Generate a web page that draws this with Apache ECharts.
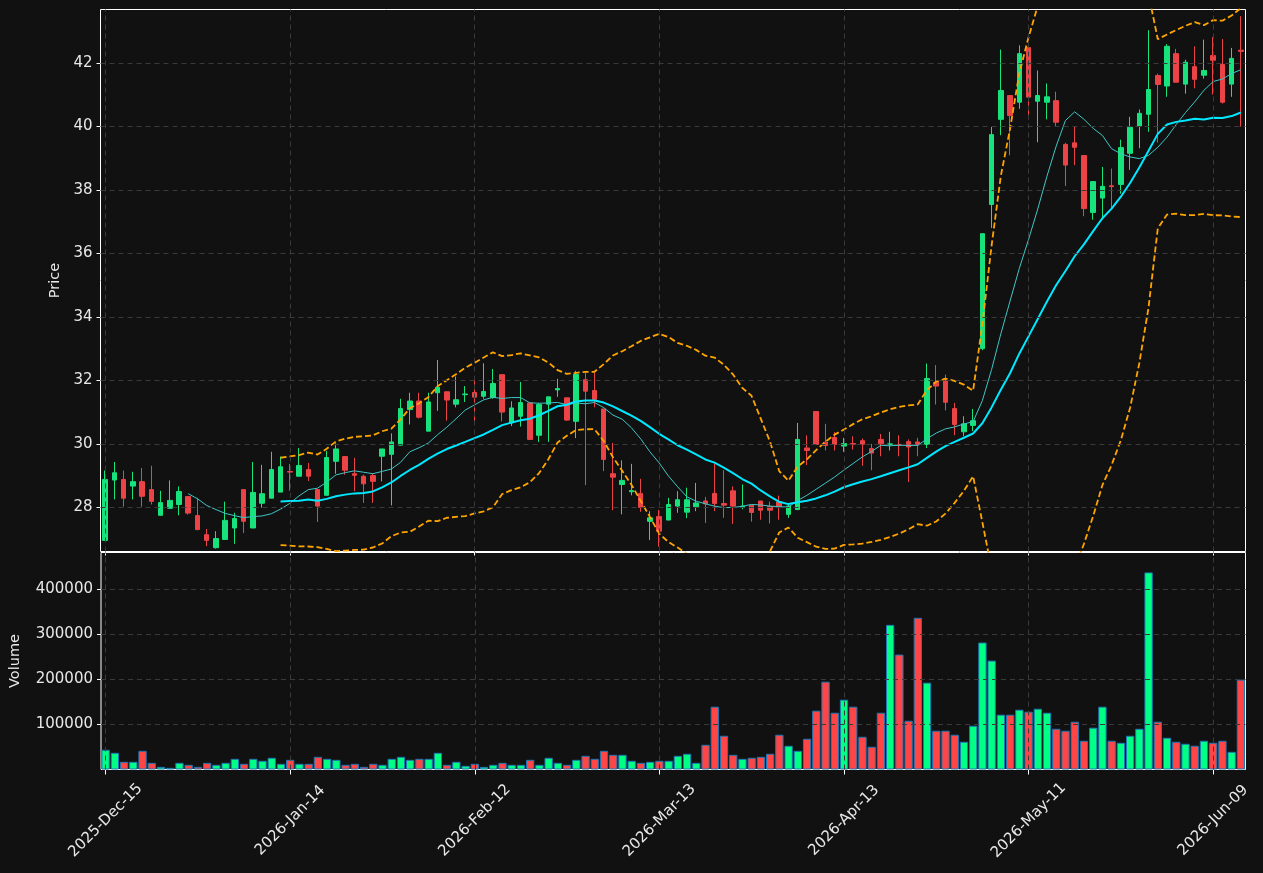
<!DOCTYPE html>
<html>
<head>
<meta charset="utf-8">
<script src="https://cdn.jsdelivr.net/npm/echarts@6/dist/echarts.min.js"></script>
<style>
  html, body { margin: 0; padding: 0; background: #111111; }
  #chart { width: 1263px; height: 873px; }
</style>
</head>
<body>
<div id="chart"></div>
<script>
(function() {

  var dates = [
    '2025-Dec-15','2025-Dec-16','2025-Dec-17','2025-Dec-18','2025-Dec-19','2025-Dec-22','2025-Dec-23','2025-Dec-24','2025-Dec-26','2025-Dec-29',
    '2025-Dec-30','2025-Dec-31','2026-Jan-02','2026-Jan-05','2026-Jan-06','2026-Jan-07','2026-Jan-08','2026-Jan-09','2026-Jan-12','2026-Jan-13',
    '2026-Jan-14','2026-Jan-15','2026-Jan-16','2026-Jan-20','2026-Jan-21','2026-Jan-22','2026-Jan-23','2026-Jan-26','2026-Jan-27','2026-Jan-28',
    '2026-Jan-29','2026-Jan-30','2026-Feb-02','2026-Feb-03','2026-Feb-04','2026-Feb-05','2026-Feb-06','2026-Feb-09','2026-Feb-10','2026-Feb-11',
    '2026-Feb-12','2026-Feb-13','2026-Feb-17','2026-Feb-18','2026-Feb-19','2026-Feb-20','2026-Feb-23','2026-Feb-24','2026-Feb-25','2026-Feb-26',
    '2026-Feb-27','2026-Mar-02','2026-Mar-03','2026-Mar-04','2026-Mar-05','2026-Mar-06','2026-Mar-09','2026-Mar-10','2026-Mar-11','2026-Mar-12',
    '2026-Mar-13','2026-Mar-16','2026-Mar-17','2026-Mar-18','2026-Mar-19','2026-Mar-20','2026-Mar-23','2026-Mar-24','2026-Mar-25','2026-Mar-26',
    '2026-Mar-27','2026-Mar-30','2026-Mar-31','2026-Apr-01','2026-Apr-02','2026-Apr-06','2026-Apr-07','2026-Apr-08','2026-Apr-09','2026-Apr-10',
    '2026-Apr-13','2026-Apr-14','2026-Apr-15','2026-Apr-16','2026-Apr-17','2026-Apr-20','2026-Apr-21','2026-Apr-22','2026-Apr-23','2026-Apr-24',
    '2026-Apr-27','2026-Apr-28','2026-Apr-29','2026-Apr-30','2026-May-01','2026-May-04','2026-May-05','2026-May-06','2026-May-07','2026-May-08',
    '2026-May-11','2026-May-12','2026-May-13','2026-May-14','2026-May-15','2026-May-18','2026-May-19','2026-May-20','2026-May-21','2026-May-22',
    '2026-May-26','2026-May-27','2026-May-28','2026-May-29','2026-Jun-01','2026-Jun-02','2026-Jun-03','2026-Jun-04','2026-Jun-05','2026-Jun-08',
    '2026-Jun-09','2026-Jun-10','2026-Jun-11','2026-Jun-12'
  ];

  var opens = [
    26.96, 28.86, 28.88, 28.67, 28.81, 28.56, 27.75, 27.97, 28.09, 28.34,
    27.74, 27.14, 26.73, 26.99, 27.35, 28.56, 27.35, 28.13, 28.29, 28.48,
    29.13, 28.98, 29.19, 28.56, 28.38, 29.45, 29.60, 29.06, 28.98, 29.00,
    29.61, 29.67, 29.96, 31.08, 31.35, 30.40, 31.61, 31.64, 31.25, 31.55,
    31.62, 31.50, 31.46, 32.18, 30.66, 30.87, 31.29, 30.27, 31.25, 31.70,
    31.45, 30.71, 32.02, 31.68, 31.10, 29.06, 28.72, 28.49, 28.44, 27.56,
    27.71, 27.60, 28.04, 27.85, 28.02, 28.20, 28.44, 28.12, 28.52, 28.00,
    28.07, 28.20, 28.03, 28.17, 27.78, 27.93, 29.87, 31.02, 30.05, 30.20,
    29.93, 30.01, 30.10, 29.85, 30.14, 29.98, 29.98, 30.07, 30.06, 29.98,
    31.94, 31.98, 31.11, 30.38, 30.58, 33.00, 37.54, 40.22, 40.97, 40.76,
    42.48, 40.79, 40.76, 40.81, 39.43, 39.48, 39.08, 37.29, 37.74, 38.13,
    38.17, 39.15, 40.01, 40.38, 41.60, 41.27, 42.29, 41.33, 41.88, 41.61,
    42.23, 41.95, 41.33, 42.40
  ];

  var closes = [
    28.88, 29.09, 28.29, 28.81, 28.35, 28.19, 28.15, 28.22, 28.50, 27.82,
    27.30, 26.96, 27.02, 27.59, 27.65, 27.56, 28.47, 28.43, 29.19, 29.28,
    29.11, 29.32, 28.98, 28.04, 29.57, 29.84, 29.17, 29.01, 28.74, 28.82,
    29.84, 30.06, 31.11, 31.35, 30.84, 31.32, 31.78, 31.38, 31.39, 31.57,
    31.47, 31.65, 31.90, 31.00, 31.13, 31.30, 30.14, 31.24, 31.48, 31.74,
    30.75, 32.19, 31.66, 31.40, 29.51, 28.95, 28.85, 28.53, 28.00, 27.67,
    27.25, 28.09, 28.24, 28.24, 28.14, 28.11, 28.12, 28.07, 28.04, 28.04,
    27.84, 27.91, 27.91, 28.02, 28.04, 30.14, 29.79, 29.98, 29.95, 29.98,
    30.01, 29.99, 29.99, 29.71, 30.00, 30.00, 29.96, 29.90, 29.97, 32.06,
    31.82, 31.31, 30.61, 30.63, 30.73, 36.62, 39.74, 41.13, 40.34, 42.29,
    40.92, 40.97, 40.93, 40.13, 38.78, 39.34, 37.41, 38.26, 38.11, 38.10,
    39.33, 39.97, 40.41, 41.16, 41.32, 42.52, 41.39, 42.02, 41.48, 41.76,
    42.08, 40.76, 42.14, 42.36
  ];

  var lows = [
    26.95, 28.25, 28.02, 28.25, 28.02, 28.09, 27.75, 27.97, 27.75, 27.77,
    27.28, 26.78, 26.70, 26.99, 26.85, 27.19, 27.35, 27.99, 28.29, 28.48,
    28.52, 28.98, 28.83, 27.54, 28.38, 29.06, 29.03, 28.51, 28.14, 28.14,
    28.82, 28.06, 29.96, 30.61, 30.80, 30.40, 31.04, 30.73, 31.15, 31.32,
    30.61, 31.42, 31.42, 30.71, 30.56, 30.54, 30.12, 30.06, 30.06, 31.48,
    30.72, 30.18, 28.70, 31.15, 29.14, 27.91, 27.78, 28.38, 27.86, 26.97,
    26.76, 27.60, 27.83, 27.66, 27.88, 27.51, 27.88, 27.67, 27.48, 27.94,
    27.55, 27.61, 27.49, 27.61, 27.67, 27.93, 29.33, 29.98, 29.79, 29.79,
    29.75, 29.82, 29.31, 29.17, 29.61, 29.79, 29.61, 28.80, 29.61, 29.87,
    31.24, 31.05, 30.27, 30.24, 30.40, 32.95, 36.80, 39.72, 39.09, 40.55,
    40.22, 39.50, 40.22, 40.00, 38.12, 38.78, 37.17, 37.06, 37.06, 37.38,
    37.88, 38.63, 39.31, 39.83, 39.49, 40.93, 41.39, 41.03, 41.20, 41.50,
    41.00, 40.72, 40.93, 39.99
  ];

  var highs = [
    29.16, 29.43, 29.16, 29.12, 29.24, 29.31, 28.52, 28.85, 28.66, 28.36,
    28.30, 27.32, 27.25, 28.18, 27.83, 28.56, 29.43, 29.34, 29.75, 29.60,
    29.37, 29.87, 29.40, 28.56, 29.78, 30.02, 29.62, 29.56, 29.03, 29.06,
    29.84, 30.33, 31.42, 31.61, 31.61, 31.61, 32.64, 31.64, 32.12, 31.82,
    32.07, 32.54, 32.36, 32.18, 31.34, 31.95, 31.29, 31.29, 31.48, 32.05,
    31.45, 32.30, 32.24, 32.24, 31.10, 30.03, 29.48, 29.37, 28.90, 27.88,
    27.92, 28.30, 28.51, 28.62, 28.77, 28.33, 29.38, 29.17, 28.66, 28.72,
    28.09, 28.20, 28.18, 28.37, 28.12, 30.66, 30.27, 31.02, 30.63, 30.37,
    30.19, 30.24, 30.17, 30.00, 30.31, 30.38, 30.27, 30.14, 30.19, 32.53,
    32.48, 32.18, 31.29, 30.87, 31.10, 36.62, 39.98, 42.42, 40.97, 42.55,
    42.48, 41.76, 41.35, 41.09, 39.48, 39.98, 39.08, 38.26, 38.72, 38.67,
    39.58, 40.30, 40.53, 43.03, 41.66, 42.59, 42.44, 42.10, 42.52, 42.73,
    42.81, 42.75, 42.47, 43.47
  ];

  var volumes = [
    43800, 37100, 17100, 17100, 41500, 14800, 5900, 3700, 14800, 10400,
    5900, 14800, 10400, 14800, 23700, 12600, 23700, 19300, 26000, 12600,
    21500, 12600, 12600, 28200, 23700, 21500, 10400, 12600, 5900, 12600,
    10400, 23700, 28200, 21500, 23700, 23700, 37100, 10400, 17100, 8200,
    12600, 5900, 10400, 14800, 10400, 10400, 21500, 10400, 26000, 14800,
    10400, 21500, 30400, 23700, 41500, 32600, 32600, 19300, 14800, 17100,
    19300, 19300, 30400, 34900, 14800, 54900, 139500, 74900, 32600, 23700,
    26000, 28200, 34900, 77200, 52700, 41500, 68300, 130600, 195100, 126100,
    155100, 139500, 72700, 50500, 126100, 321300, 255200, 108300, 336900, 192900,
    86100, 86100, 77200, 61600, 97200, 282000, 241900, 121700, 121700, 132800,
    128400, 135000, 126100, 90500, 86100, 106100, 63800, 92800, 139500, 63800,
    59400, 74900, 90500, 437800, 106100, 70500, 61600, 57100, 52700, 63800,
    59400, 63800, 39300, 199600
  ];

  var priceTicks = [28, 30, 32, 34, 36, 38, 40, 42];
  var volumeTicks = [100000, 200000, 300000, 400000];

  var UP = '#17e27c', DOWN = '#ec4346';
  var VOL_UP = '#00ff85', VOL_DOWN = '#ff4545';
  var GRID_LINE = { color: '#3a3a3a', type: [5, 4], width: 1 };
  var FONT = 'DejaVu Sans';
  var TEXT = '#e8e8e8';

  function rollingMean(arr, n) {
    return arr.map(function(v, i) {
      if (i < n - 1) return null;
      var s = 0;
      for (var k = i - n + 1; k <= i; k++) s += arr[k];
      return s / n;
    });
  }

  function rollingStd(arr, n) {
    var mean = rollingMean(arr, n);
    return arr.map(function(v, i) {
      if (i < n - 1) return null;
      var s = 0;
      for (var k = i - n + 1; k <= i; k++) s += Math.pow(arr[k] - mean[i], 2);
      return Math.sqrt(s / (n - 1));
    });
  }

  var ma10 = rollingMean(closes, 10);
  var ma20 = rollingMean(closes, 20);
  var sd20 = rollingStd(closes, 20);
  var upper = ma20.map(function(m, i) { return m === null ? null : m + 2 * sd20[i]; });
  var lower = ma20.map(function(m, i) { return m === null ? null : m - 2 * sd20[i]; });

  var candles = dates.map(function(d, i) {
    return [opens[i], closes[i], lows[i], highs[i]];
  });

  var volBars = volumes.map(function(v, i) {
    var up = closes[i] >= opens[i];
    return { value: v, itemStyle: { color: up ? VOL_UP : VOL_DOWN } };
  });

  var labelIdx = [];
  for (var i = 0; i < dates.length; i += 20) labelIdx.push(i);

  function gridMarks(values) {
    var data = values.map(function(v) { return { yAxis: v }; });
    labelIdx.forEach(function(i) { data.push({ xAxis: dates[i] }); });
    return {
      silent: true,
      symbol: 'none',
      label: { show: false },
      lineStyle: GRID_LINE,
      emphasis: { disabled: true },
      data: data
    };
  }

  var container = document.getElementById('chart');
  var myChart = echarts.init(container);

  var yLabel = { color: TEXT, fontFamily: FONT, fontSize: 15, margin: 8, formatter: function(v) { return String(v); } };
  var yTick = { show: true, length: 4, inside: false, lineStyle: { color: '#ffffff' } };

  var option = {
    backgroundColor: '#111111',
    animation: false,
    textStyle: { fontFamily: FONT },
    grid: [
      { left: 100.5, width: 1145, top: 9.5, height: 542, show: true, borderColor: '#ffffff', borderWidth: 1, backgroundColor: 'transparent' },
      { left: 100.5, width: 1145, top: 552.5, height: 217, show: true, borderColor: '#ffffff', borderWidth: 1, backgroundColor: 'transparent' }
    ],
    xAxis: [
      {
        type: 'category', gridIndex: 0, data: dates, boundaryGap: true,
        axisLine: { show: false },
        axisTick: { show: true, interval: 19, alignWithLabel: true, length: 4, lineStyle: { color: '#ffffff' } },
        axisLabel: { show: false, interval: 19 },
        splitLine: { show: false }
      },
      {
        type: 'category', gridIndex: 1, data: dates, boundaryGap: true,
        axisLine: { show: false },
        axisTick: { show: true, interval: 19, alignWithLabel: true, length: 5, lineStyle: { color: '#ffffff' } },
        axisLabel: {
          interval: 19, rotate: 45, align: 'center', verticalAlign: 'middle', margin: 51,
          color: TEXT, fontFamily: FONT, fontSize: 15
        },
        splitLine: { show: false }
      }
    ],
    yAxis: [
      {
        type: 'value', gridIndex: 0, min: 26.61, max: 43.68, scale: true,
        name: 'Price', nameLocation: 'middle', nameGap: 37,
        nameTextStyle: { color: TEXT, fontFamily: FONT, fontSize: 14.5 },
        axisLine: { show: false },
        axisTick: echarts.util.extend({ customValues: priceTicks }, yTick),
        axisLabel: echarts.util.extend({ customValues: priceTicks }, yLabel),
        splitLine: { show: false }
      },
      {
        type: 'value', gridIndex: 1, min: 0, max: 482000,
        name: 'Volume', nameLocation: 'middle', nameGap: 78,
        nameTextStyle: { color: TEXT, fontFamily: FONT, fontSize: 14.5 },
        axisLine: { show: false },
        axisTick: echarts.util.extend({ customValues: volumeTicks }, yTick),
        axisLabel: echarts.util.extend({ customValues: volumeTicks }, yLabel),
        splitLine: { show: false }
      }
    ],
    series: [
      {
        name: 'priceGrid', type: 'line', xAxisIndex: 0, yAxisIndex: 0, data: [], z: 1,
        markLine: gridMarks(priceTicks)
      },
      {
        name: 'volumeGrid', type: 'line', xAxisIndex: 1, yAxisIndex: 1, data: [], z: 1,
        markLine: gridMarks(volumeTicks)
      },
      {
        name: 'Candles', type: 'candlestick', xAxisIndex: 0, yAxisIndex: 0,
        data: candles, barWidth: 5,
        itemStyle: { color: UP, color0: DOWN, borderColor: UP, borderColor0: DOWN, borderWidth: 1 }
      },
      {
        name: 'MA10', type: 'line', xAxisIndex: 0, yAxisIndex: 0, data: ma10,
        showSymbol: false, smooth: false, z: 3,
        lineStyle: { color: '#3fc6c6', width: 1 }
      },
      {
        name: 'MA20', type: 'line', xAxisIndex: 0, yAxisIndex: 0, data: ma20,
        showSymbol: false, smooth: false, z: 3,
        lineStyle: { color: '#00e8ff', width: 2 }
      },
      {
        name: 'Upper', type: 'line', xAxisIndex: 0, yAxisIndex: 0, data: upper,
        showSymbol: false, z: 3, clip: true,
        lineStyle: { color: '#ffa500', width: 1.8, type: [6, 3] }
      },
      {
        name: 'Lower', type: 'line', xAxisIndex: 0, yAxisIndex: 0, data: lower,
        showSymbol: false, z: 3, clip: true,
        lineStyle: { color: '#ffa500', width: 1.8, type: [6, 3] }
      },
      {
        name: 'Volume', type: 'bar', xAxisIndex: 1, yAxisIndex: 1,
        data: volBars, barWidth: '90%',
        itemStyle: { borderColor: '#1f77b4', borderWidth: 1 }
      }
    ]
  };

  myChart.setOption(option);

})();
</script>
</body>
</html>
